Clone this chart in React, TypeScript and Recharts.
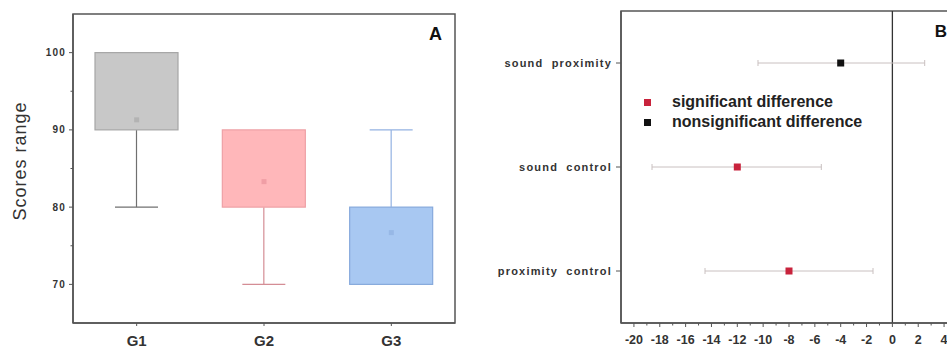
import React from 'react';
import {
  ComposedChart,
  Bar,
  Scatter,
  XAxis,
  YAxis,
  ReferenceArea,
  ReferenceLine,
  ErrorBar,
  Legend,
} from 'recharts';

// ---------- Panel A data ----------
const groups = ['G1', 'G2', 'G3'];
const whiskerLow = [80, 70, 70];
const boxLow = [90, 80, 70];
const boxHigh = [100, 90, 80];
const whiskerHigh = [100, 90, 90];
const groupMeans = [91.3, 83.3, 76.7];
const scoreTicks = [70, 75, 80, 85, 90, 95, 100];

// ---------- Panel B data ----------
const comparisons = ['sound proximity', 'sound control', 'proximity control'];
const meanDiff = [-4, -12, -8];
const ciLow = [-10.4, -18.6, -14.5];
const ciHigh = [2.5, -5.5, -1.5];
const significant = [false, true, true];
const diffTicks = [-20, -19, -18, -17, -16, -15, -14, -13, -12, -11, -10, -9, -8, -7, -6, -5, -4, -3, -2, -1, 0, 1, 2, 3, 4, 5];
const legendLabels = ['significant difference', 'nonsignificant difference'];

// ---------- styles ----------
const FONT = '"Liberation Sans", Arial, Helvetica, sans-serif';
const AXIS = '#555';
const TEXT = '#333';
const SIG = '#c8233c';
const NS = '#111';
const BOX_STYLE = [
  { fill: '#c8c8c8', stroke: '#a6a6a6', whisker: '#707070', mean: '#b3b3b3' },
  { fill: '#ffb7ba', stroke: '#eea0a5', whisker: '#d48d95', mean: '#f09ea5' },
  { fill: '#a8c8f2', stroke: '#86a9dc', whisker: '#93b2e2', mean: '#97b8e6' },
];
const CAP_HALF = 21.5;

const boxData = groups.map((g, i) => ({
  name: g,
  idx: i,
  base: whiskerLow[i],
  lowW: boxLow[i] - whiskerLow[i],
  box: boxHigh[i] - boxLow[i],
  upW: whiskerHigh[i] - boxHigh[i],
  mean: groupMeans[i],
}));

const diffData = comparisons.map((c, i) => ({
  name: c,
  mean: meanDiff[i],
  err: [meanDiff[i] - ciLow[i], ciHigh[i] - meanDiff[i]],
  sig: significant[i],
}));

// ---------- shapes ----------
const BoxRect = (p: any) => {
  if (!p.height || p.height < 0.5) return <g />;
  const s = BOX_STYLE[p.payload.idx];
  return <rect x={p.x} y={p.y} width={p.width} height={p.height} fill={s.fill} stroke={s.stroke} strokeWidth={1.2} />;
};

const LowWhisker = (p: any) => {
  if (!p.height || p.height < 0.5) return <g />;
  const s = BOX_STYLE[p.payload.idx];
  const cx = p.x + p.width / 2;
  const yb = p.y + p.height;
  return (
    <g stroke={s.whisker} strokeWidth={1.2}>
      <line x1={cx} x2={cx} y1={p.y} y2={yb} />
      <line x1={cx - CAP_HALF} x2={cx + CAP_HALF} y1={yb} y2={yb} />
    </g>
  );
};

const HighWhisker = (p: any) => {
  if (!p.height || p.height < 0.5) return <g />;
  const s = BOX_STYLE[p.payload.idx];
  const cx = p.x + p.width / 2;
  return (
    <g stroke={s.whisker} strokeWidth={1.2}>
      <line x1={cx} x2={cx} y1={p.y} y2={p.y + p.height} />
      <line x1={cx - CAP_HALF} x2={cx + CAP_HALF} y1={p.y} y2={p.y} />
    </g>
  );
};

const MeanMark = (p: any) => {
  if (p.cx == null || p.cy == null) return <g />;
  const s = BOX_STYLE[p.payload.idx];
  return <rect x={p.cx - 2.5} y={p.cy - 2.5} width={5} height={5} fill={s.mean} />;
};

const DiffMark = (p: any) => {
  if (p.cx == null || p.cy == null) return <g />;
  return <rect x={p.cx - 3.5} y={p.cy - 3.5} width={7} height={7} fill={p.payload.sig ? SIG : NS} />;
};

// ---------- ticks ----------
const ScoreTick = (props: any) => {
  const { x, y, payload } = props;
  const v = payload.value;
  const axisX = x + 4 + 4;
  const major = v % 10 === 0;
  return (
    <g>
      <line x1={axisX - (major ? 4 : 2.5)} x2={axisX} y1={y} y2={y} stroke={AXIS} strokeWidth={1} />
      {major && (
        <text x={x + 1} y={y} dy="0.35em" textAnchor="end" fontSize={10} fontWeight="bold" letterSpacing={1.2} fill={TEXT} fontFamily={FONT}>
          {v}
        </text>
      )}
    </g>
  );
};

const GroupTick = (props: any) => {
  const { x, y, payload } = props;
  const axisY = y - 4 - 8;
  return (
    <g>
      <line x1={x} x2={x} y1={axisY} y2={axisY + 3} stroke={AXIS} strokeWidth={1} />
      <text x={x} y={y} dy="0.71em" textAnchor="middle" fontSize={15} fontWeight="bold" fill={TEXT} fontFamily={FONT}>
        {payload.value}
      </text>
    </g>
  );
};

const DiffTick = (props: any) => {
  const { x, y, payload } = props;
  const v = payload.value;
  const axisY = y - 4 - 8;
  const major = v % 2 === 0;
  return (
    <g>
      <line x1={x} x2={x} y1={axisY} y2={axisY + (major ? 4 : 2.5)} stroke={AXIS} strokeWidth={1} />
      {major && (
        <text x={x} y={y} dy="0.71em" textAnchor="middle" fontSize={12.5} fontWeight="bold" fill={TEXT} fontFamily={FONT}>
          {v}
        </text>
      )}
    </g>
  );
};

const CompTick = (props: any) => {
  const { x, y, payload } = props;
  const axisX = x + 5 + 4;
  return (
    <g>
      <line x1={axisX - 5} x2={axisX} y1={y} y2={y} stroke={AXIS} strokeWidth={1} />
      <text x={axisX - 9} y={y} dy="0.35em" textAnchor="end" fontSize={11} fontWeight="bold" letterSpacing={1.2} wordSpacing={4} fill={TEXT} fontFamily={FONT}>
        {payload.value}
      </text>
    </g>
  );
};

const LegendBox = () => (
  <div style={{ fontFamily: FONT, fontWeight: 'bold', fontSize: 16, color: '#222' }}>
    {legendLabels.map((l, i) => (
      <div key={l} style={{ display: 'flex', alignItems: 'center', height: 20, whiteSpace: 'nowrap' }}>
        <span style={{ display: 'inline-block', width: 7, height: 7, background: i === 0 ? SIG : NS, marginRight: 21 }} />
        <span>{l}</span>
      </div>
    ))}
  </div>
);

export default function App() {
  return (
    <div
      style={{
        position: 'absolute',
        left: 0,
        top: 0,
        width: 947,
        height: 349,
        overflow: 'hidden',
        background: '#fff',
        fontFamily: FONT,
      }}
    >
      <div style={{ position: 'absolute', left: 0, top: 0 }}>
        <ComposedChart width={470} height={349} data={boxData} margin={{ top: 14, right: 15, bottom: 0, left: 0 }}>
          <XAxis
            dataKey="name"
            height={26}
            tickLine={false}
            tickSize={4}
            tickMargin={8}
            axisLine={{ stroke: AXIS, strokeWidth: 1.5 }}
            tick={<GroupTick />}
            interval={0}
          />
          <YAxis
            type="number"
            domain={[65, 105]}
            allowDataOverflow
            ticks={scoreTicks}
            interval={0}
            width={73}
            tickLine={false}
            tickSize={4}
            tickMargin={4}
            axisLine={{ stroke: AXIS, strokeWidth: 1.5 }}
            tick={<ScoreTick />}
            label={{
              value: 'Scores range',
              angle: -90,
              position: 'center',
              dx: -16.5,
              dy: -7.5,
              fontSize: 18,
              fill: TEXT,
              letterSpacing: 1,
              fontFamily: FONT,
            }}
          />
          <ReferenceArea
            y1={65}
            y2={105}
            fill="none"
            stroke={AXIS}
            strokeWidth={1.5}
            label={{ value: 'A', position: 'insideTopRight', offset: 13, fontSize: 18, fontWeight: 'bold', fill: '#111', fontFamily: FONT }}
          />
          <Bar dataKey="base" stackId="b" fill="none" barSize={83} isAnimationActive={false} />
          <Bar dataKey="lowW" stackId="b" barSize={83} shape={LowWhisker} isAnimationActive={false} />
          <Bar dataKey="box" stackId="b" barSize={83} shape={BoxRect} isAnimationActive={false} />
          <Bar dataKey="upW" stackId="b" barSize={83} shape={HighWhisker} isAnimationActive={false} />
          <Scatter dataKey="mean" shape={MeanMark} isAnimationActive={false} />
        </ComposedChart>
      </div>

      <div style={{ position: 'absolute', left: 470, top: 0 }}>
        <ComposedChart layout="vertical" width={502} height={349} data={diffData} margin={{ top: 11, right: 15, bottom: 0, left: 0 }}>
          <XAxis
            type="number"
            dataKey="mean"
            domain={[-21, 5]}
            allowDataOverflow
            ticks={diffTicks}
            interval={0}
            height={26}
            tickLine={false}
            tickSize={4}
            tickMargin={8}
            axisLine={{ stroke: AXIS, strokeWidth: 1.5 }}
            tick={<DiffTick />}
          />
          <YAxis
            type="category"
            dataKey="name"
            scale="band"
            width={151}
            interval={0}
            tickLine={false}
            tickSize={5}
            tickMargin={4}
            axisLine={{ stroke: AXIS, strokeWidth: 1.5 }}
            tick={<CompTick />}
          />
          <ReferenceArea
            x1={-21}
            x2={5}
            fill="none"
            stroke={AXIS}
            strokeWidth={1.5}
            label={{ value: 'B', position: 'insideTopRight', offset: 10, dy: 4, fontSize: 17, fontWeight: 'bold', fill: '#111', fontFamily: FONT }}
          />
          <ReferenceLine x={0} stroke="#333" strokeWidth={1.3} />
          <Legend
            layout="horizontal"
            verticalAlign="middle"
            align="center"
            wrapperStyle={{ left: 174, top: 92, width: 'auto' }}
            content={() => <LegendBox />}
          />
          <Scatter dataKey="mean" shape={DiffMark} isAnimationActive={false}>
            <ErrorBar dataKey="err" direction="x" width={3} stroke="#c9c0c0" strokeWidth={1} />
          </Scatter>
        </ComposedChart>
      </div>
    </div>
  );
}
